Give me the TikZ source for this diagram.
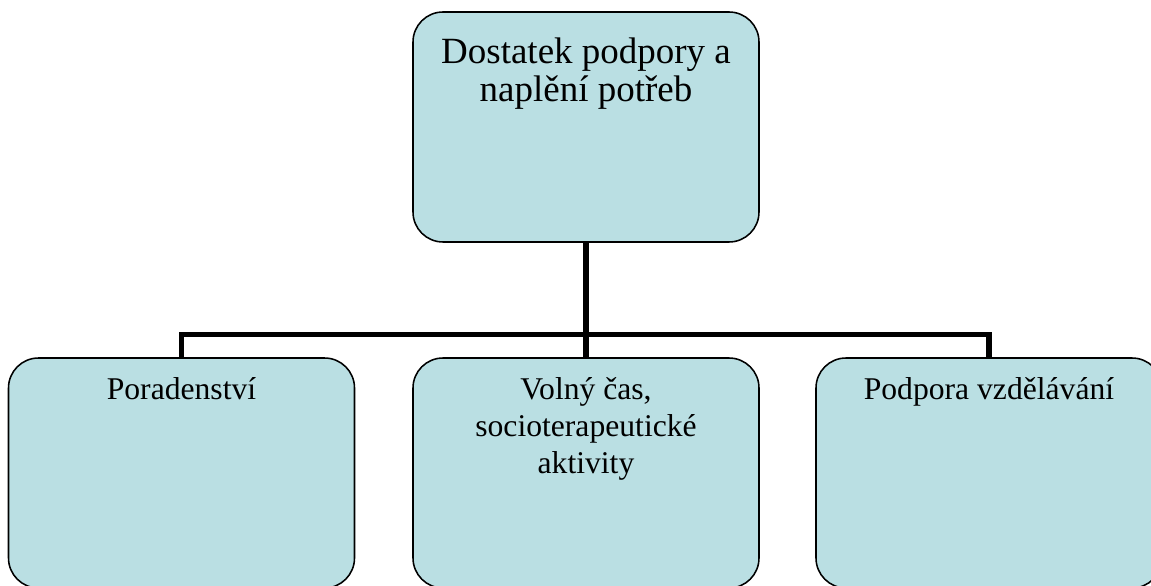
\documentclass[tikz,border=0pt]{standalone}
\usepackage{fontspec}
\setmainfont{Liberation Serif}
\definecolor{BoxAqua}{HTML}{BADFE3}
\definecolor{BoxLine}{HTML}{000000}
\usetikzlibrary{positioning,calc}
\tikzset{
    % Rounded boxes of the hierarchy
    topic/.style={
        rectangle,
        rounded corners=0.75cm,
        draw=BoxLine,
        line width=1.1pt,
        fill=BoxAqua,
        minimum width=8.65cm,
        minimum height=5.75cm,
        inner sep=0pt
    },
    topic text/.style={
        align=center,
        inner sep=0pt,
        anchor=north,
        text=BoxLine
    },
    head font/.style={font=\fontsize{26.3}{27}\selectfont},
    item font/.style={font=\fontsize{22.5}{26.3}\selectfont},
    link/.style={
        draw=BoxLine,
        line width=3.6pt
    }
}
\begin{document}
\begin{tikzpicture}
        \clip (0,0) rectangle (28.775,14.625);
        % Boxes
        \node[topic] (head) at (14.65,11.45) {};
        \node[topic] (advice) at (4.5375,2.8) {};
        \node[topic] (leisure) at (14.65,2.8) {};
        \node[topic] (school) at (24.725,2.8) {};

        % Texts
        \node[topic text, head font, below=0.67cm of head.north] (headtext) {Dostatek podpory a\\naplění potřeb};
        \node[topic text, item font, below=0.51cm of advice.north] (advicetext) {Poradenství};
        \node[topic text, item font, below=0.51cm of leisure.north] (leisuretext) {Volný čas,\\socioterapeutické\\aktivity};
        \node[topic text, item font, below=0.51cm of school.north] (schooltext) {Podpora vzdělávání};

        % Connectors
        \coordinate (bus) at ($(head.south)+(0,-2.3)$);
        \draw[link] (head.south) -- (bus) -| (advice.north);
        \draw[link] (bus) -- (leisure.north);
        \draw[link] (bus) -| (school.north);
    \end{tikzpicture}
\end{document}
